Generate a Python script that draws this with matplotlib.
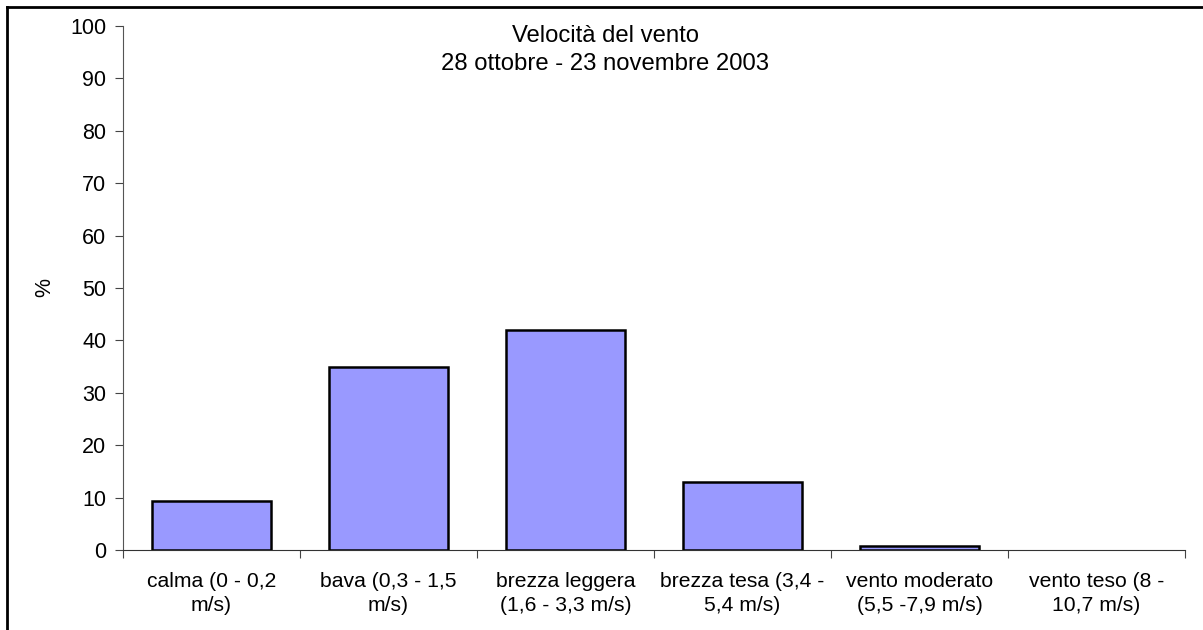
import matplotlib.pyplot as plt
from matplotlib.lines import Line2D

plt.rcParams['font.family'] = ['Liberation Sans', 'DejaVu Sans']

categories = ['calma (0 - 0,2\nm/s)', 'bava (0,3 - 1,5\nm/s)',
              'brezza leggera\n(1,6 - 3,3 m/s)', 'brezza tesa (3,4 -\n5,4 m/s)',
              'vento moderato\n(5,5 -7,9 m/s)', 'vento teso (8 -\n10,7 m/s)']
values = [9.3, 34.9, 41.9, 12.9, 0.8, 0.0]

W, H = 1203, 630
fig = plt.figure(figsize=(W / 100, H / 100), dpi=100)
ax = fig.add_axes([123 / W, 1 - 550 / H, (1185 - 123) / W, (550 - 26) / H])

x = list(range(len(categories)))
# empty bars have no visible outline in the original
lw = [1.8 if v > 0 else 0 for v in values]
ax.bar(x, values, width=0.67, color='#9999ff', edgecolor='black', linewidth=lw)

ax.set_xlim(-0.5, len(categories) - 0.5)
ax.set_ylim(0, 100)
ax.set_yticks(range(0, 101, 10))
ax.set_xticks([i - 0.5 for i in range(len(categories) + 1)])
ax.set_xticklabels([])
ax.set_xticks(x, minor=True)
ax.set_xticklabels(categories, minor=True, fontsize=15.2, linespacing=1.3)
ax.tick_params(axis='x', which='minor', length=0, pad=16)
ax.tick_params(axis='x', which='major', length=6, direction='out', color='#444444')
ax.tick_params(axis='y', length=6, direction='out', labelsize=15.5, pad=6, color='#444444')

for s in ['top', 'right']:
    ax.spines[s].set_visible(False)
ax.spines['left'].set_color('#555555')
ax.spines['bottom'].set_color('#333333')

fig.text(45 / W, 1 - 288 / H, '%', rotation=90, ha='center', va='center', fontsize=15.5)

fig.text(605 / W, 1 - 50 / H, 'Velocità del vento\n28 ottobre - 23 novembre 2003',
         ha='center', va='center', fontsize=17.2, linespacing=1.3)

# chart border (only top and left visible in the cropped picture)
fig.add_artist(Line2D([7 / W, 1], [1 - 7 / H, 1 - 7 / H], color='black', linewidth=2,
                      transform=fig.transFigure))
fig.add_artist(Line2D([7 / W, 7 / W], [0, 1 - 7 / H], color='black', linewidth=2,
                      transform=fig.transFigure))

fig.savefig('out.png', dpi=100)
